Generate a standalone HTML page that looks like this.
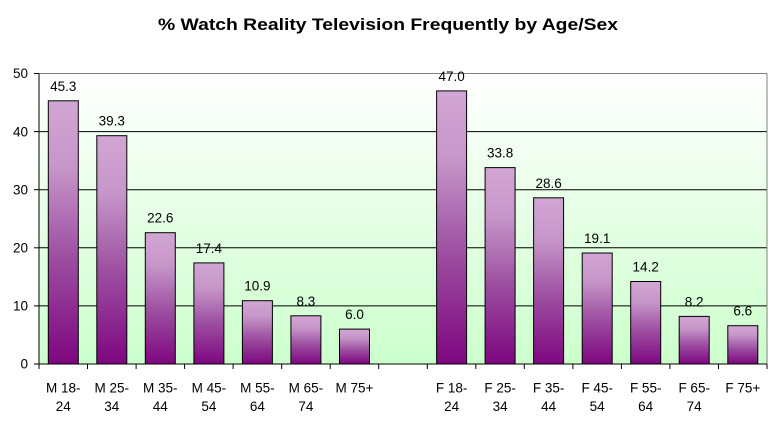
<!DOCTYPE html>
<html><head><meta charset="utf-8"><style>
html,body{margin:0;padding:0;background:#fff;}
svg{display:block;}
text{font-family:"Liberation Sans",Arial,sans-serif;fill:#000;}
</style></head><body>
<svg width="781" height="428" viewBox="0 0 781 428" xmlns="http://www.w3.org/2000/svg">
<defs>
<linearGradient id="bg" x1="0" y1="0" x2="0" y2="1">
<stop offset="0" stop-color="#ffffff"/>
<stop offset="1" stop-color="#ccffcc"/>
</linearGradient>
<linearGradient id="bar" x1="0" y1="0" x2="0" y2="1">
<stop offset="0" stop-color="#d2a6d4"/>
<stop offset="0.25" stop-color="#c696c9"/>
<stop offset="0.6" stop-color="#9c4ea0"/>
<stop offset="1" stop-color="#7e0680"/>
</linearGradient>
</defs>
<rect width="781" height="428" fill="#fff"/>
<text x="388" y="30" font-size="17" font-weight="bold" text-anchor="middle" textLength="460" lengthAdjust="spacingAndGlyphs">% Watch Reality Television Frequently by Age/Sex</text>
<rect x="39" y="73.5" width="728" height="290.5" fill="url(#bg)"/>
<g stroke="#000" stroke-width="1">
<line x1="39" y1="305.9" x2="767" y2="305.9"/>
<line x1="39" y1="247.8" x2="767" y2="247.8"/>
<line x1="39" y1="189.7" x2="767" y2="189.7"/>
<line x1="39" y1="131.6" x2="767" y2="131.6"/>
</g>
<line x1="39" y1="73.5" x2="767" y2="73.5" stroke="#808080"/>
<line x1="767" y1="73.5" x2="767" y2="364" stroke="#808080"/>
<g stroke="#000" stroke-width="1" fill="url(#bar)">
<rect x="48.3" y="100.8" width="30" height="263.2"/>
<rect x="96.8" y="135.7" width="30" height="228.3"/>
<rect x="145.3" y="232.7" width="30" height="131.3"/>
<rect x="193.9" y="262.9" width="30" height="101.1"/>
<rect x="242.4" y="300.7" width="30" height="63.3"/>
<rect x="290.9" y="315.8" width="30" height="48.2"/>
<rect x="339.5" y="329.1" width="30" height="34.9"/>
<rect x="436.6" y="90.9" width="30" height="273.1"/>
<rect x="485.1" y="167.6" width="30" height="196.4"/>
<rect x="533.6" y="197.8" width="30" height="166.2"/>
<rect x="582.2" y="253.0" width="30" height="111.0"/>
<rect x="630.7" y="281.5" width="30" height="82.5"/>
<rect x="679.2" y="316.4" width="30" height="47.6"/>
<rect x="727.8" y="325.7" width="30" height="38.3"/>
</g>
<g stroke="#000" stroke-width="1">
<line x1="39" y1="73.5" x2="39" y2="369"/>
<line x1="34" y1="364" x2="767" y2="364"/>
<line x1="34" y1="305.9" x2="39" y2="305.9"/>
<line x1="34" y1="247.8" x2="39" y2="247.8"/>
<line x1="34" y1="189.7" x2="39" y2="189.7"/>
<line x1="34" y1="131.6" x2="39" y2="131.6"/>
<line x1="34" y1="73.5" x2="39" y2="73.5"/>
<line x1="87.5" y1="364" x2="87.5" y2="369"/>
<line x1="136.1" y1="364" x2="136.1" y2="369"/>
<line x1="184.6" y1="364" x2="184.6" y2="369"/>
<line x1="233.1" y1="364" x2="233.1" y2="369"/>
<line x1="281.7" y1="364" x2="281.7" y2="369"/>
<line x1="330.2" y1="364" x2="330.2" y2="369"/>
<line x1="378.7" y1="364" x2="378.7" y2="369"/>
<line x1="427.3" y1="364" x2="427.3" y2="369"/>
<line x1="475.8" y1="364" x2="475.8" y2="369"/>
<line x1="524.3" y1="364" x2="524.3" y2="369"/>
<line x1="572.9" y1="364" x2="572.9" y2="369"/>
<line x1="621.4" y1="364" x2="621.4" y2="369"/>
<line x1="669.9" y1="364" x2="669.9" y2="369"/>
<line x1="718.5" y1="364" x2="718.5" y2="369"/>
<line x1="767" y1="364" x2="767" y2="369"/>
</g>
<g font-size="13.5" text-anchor="end">
<text x="28" y="368.7">0</text>
<text x="28" y="310.6">10</text>
<text x="28" y="252.5">20</text>
<text x="28" y="194.4">30</text>
<text x="28" y="136.3">40</text>
<text x="28" y="78.2">50</text>
</g>
<g font-size="13.5" text-anchor="middle">
<text x="63.3" y="90.8">45.3</text>
<text x="111.8" y="125.7">39.3</text>
<text x="160.3" y="222.7">22.6</text>
<text x="208.9" y="252.9">17.4</text>
<text x="257.4" y="290.7">10.9</text>
<text x="305.9" y="305.8">8.3</text>
<text x="354.5" y="319.1">6.0</text>
<text x="451.6" y="80.9">47.0</text>
<text x="500.1" y="157.6">33.8</text>
<text x="548.6" y="187.8">28.6</text>
<text x="597.2" y="243.0">19.1</text>
<text x="645.7" y="271.5">14.2</text>
<text x="694.2" y="306.4">8.2</text>
<text x="742.8" y="315.7">6.6</text>
</g>
<g font-size="13.5" text-anchor="middle">
<text x="63.3" y="392.7">M 18-</text><text x="63.3" y="411.2">24</text>
<text x="111.8" y="392.7">M 25-</text><text x="111.8" y="411.2">34</text>
<text x="160.3" y="392.7">M 35-</text><text x="160.3" y="411.2">44</text>
<text x="208.9" y="392.7">M 45-</text><text x="208.9" y="411.2">54</text>
<text x="257.4" y="392.7">M 55-</text><text x="257.4" y="411.2">64</text>
<text x="305.9" y="392.7">M 65-</text><text x="305.9" y="411.2">74</text>
<text x="354.5" y="392.7">M 75+</text>
<text x="451.6" y="392.7">F 18-</text><text x="451.6" y="411.2">24</text>
<text x="500.1" y="392.7">F 25-</text><text x="500.1" y="411.2">34</text>
<text x="548.6" y="392.7">F 35-</text><text x="548.6" y="411.2">44</text>
<text x="597.2" y="392.7">F 45-</text><text x="597.2" y="411.2">54</text>
<text x="645.7" y="392.7">F 55-</text><text x="645.7" y="411.2">64</text>
<text x="694.2" y="392.7">F 65-</text><text x="694.2" y="411.2">74</text>
<text x="742.8" y="392.7">F 75+</text>
</g>
</svg>
</body></html>
